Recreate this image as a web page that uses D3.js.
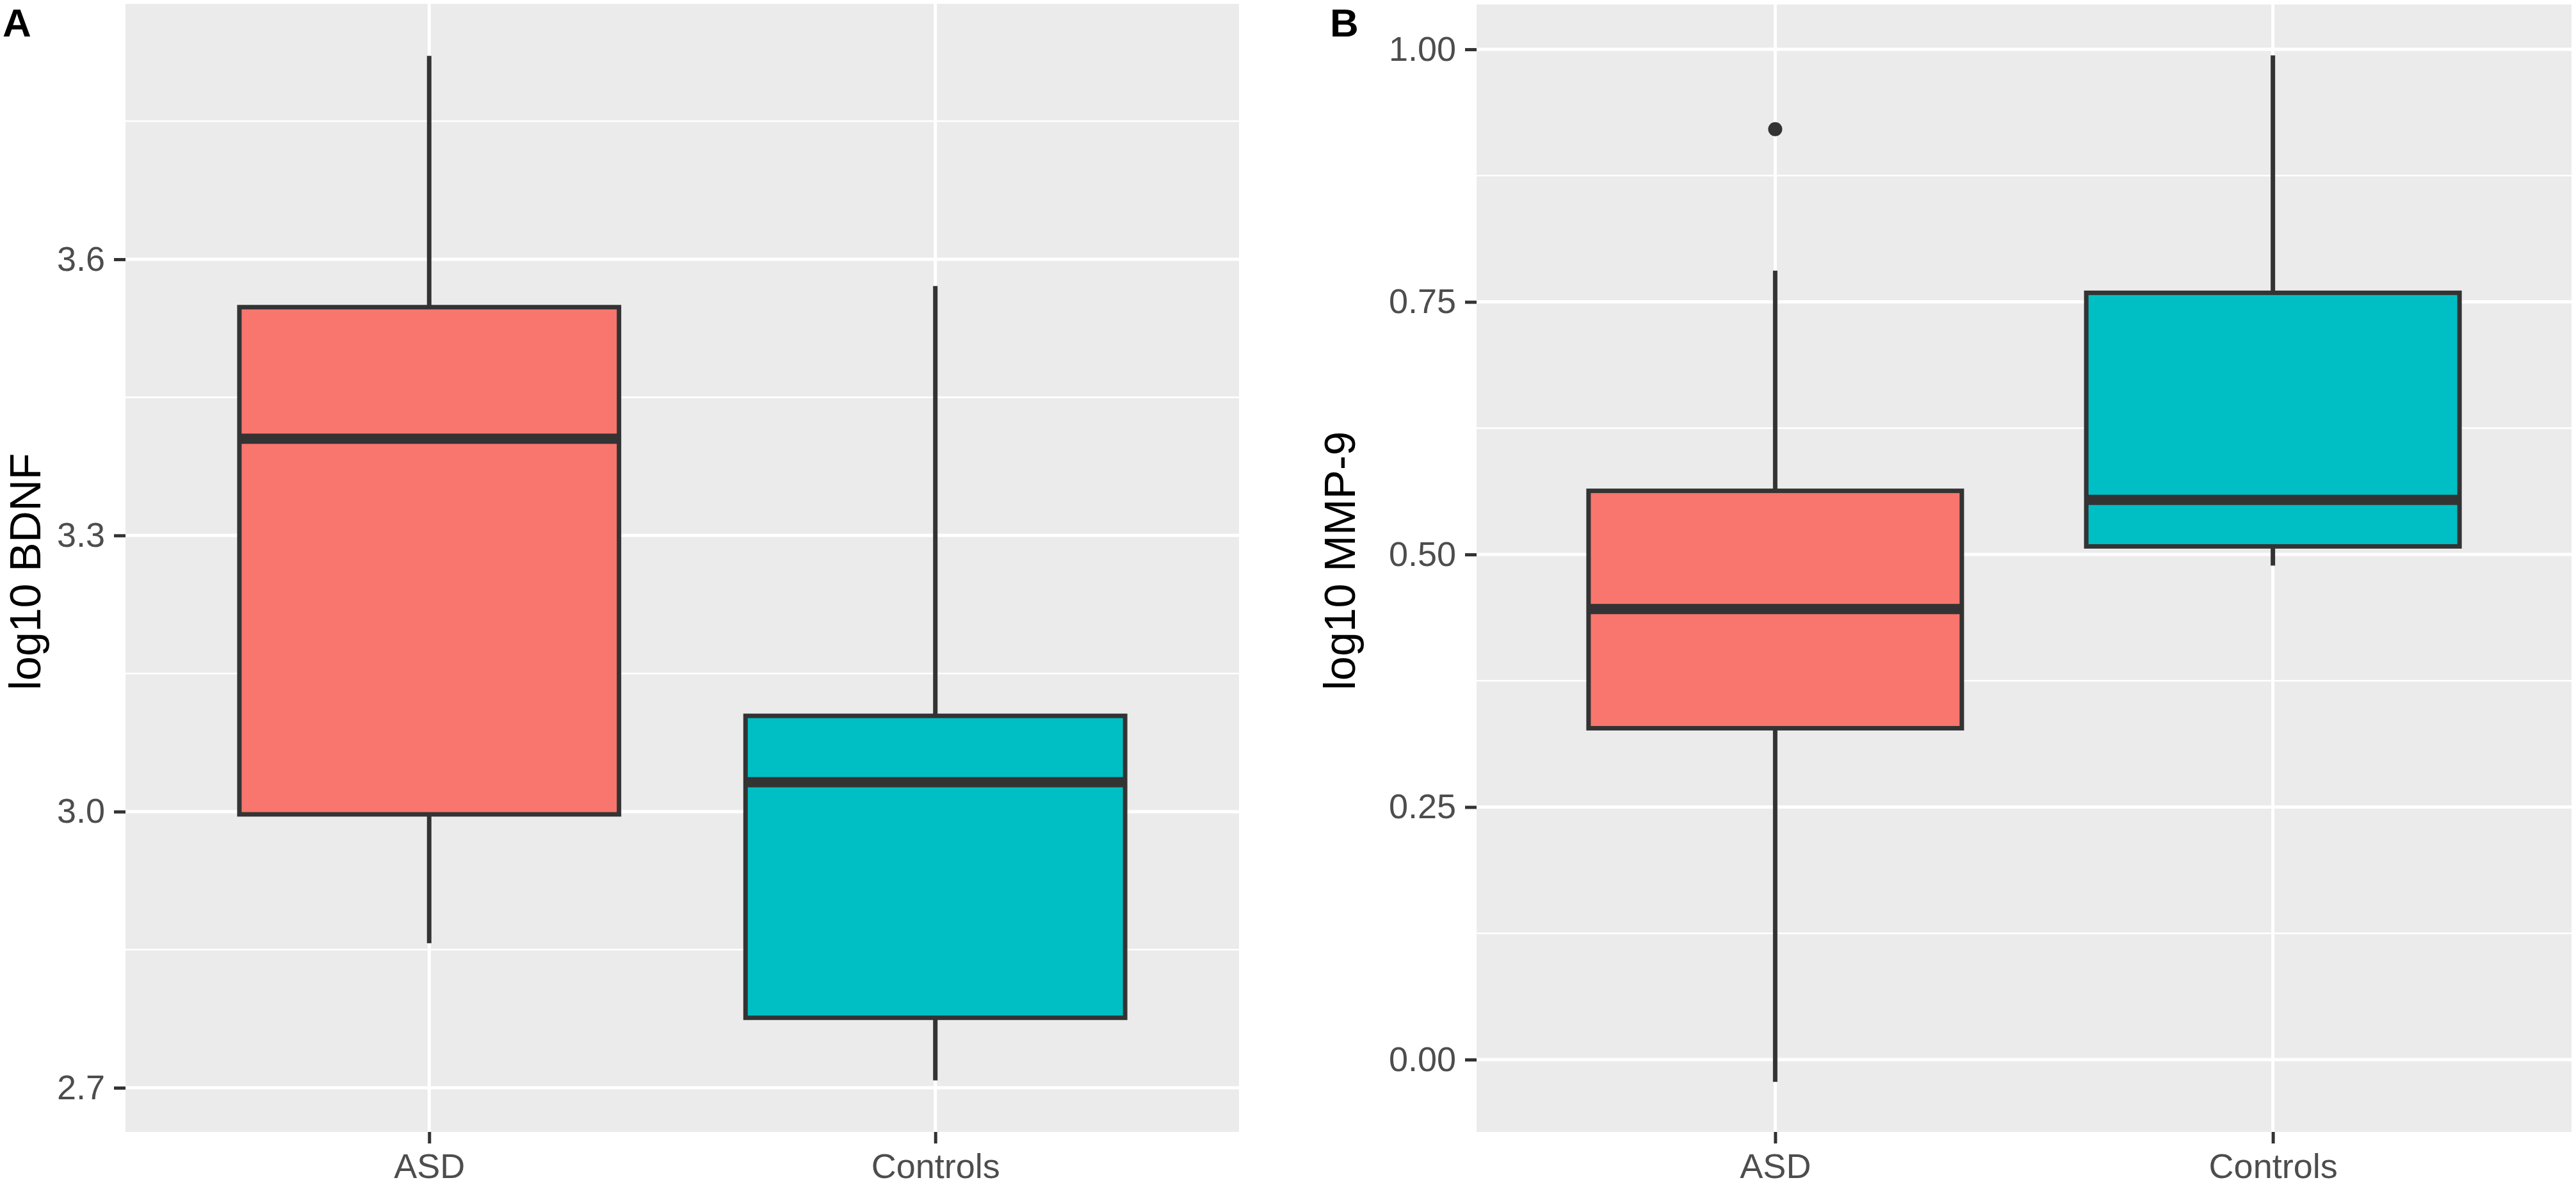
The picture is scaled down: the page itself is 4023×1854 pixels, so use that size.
<!DOCTYPE html>
<html lang="en">
<head>
    <meta charset="UTF-8">
    <title>log10 BDNF and MMP-9 boxplots</title>
    <script src="https://d3js.org/d3.v7.min.js"></script>
    <style>
        body { margin: 0; padding: 0; background: #fff; }
        svg { display: block; font-family: "Liberation Sans", Arial, sans-serif; }
    </style>
</head>
<body>
    <script>
        const categories = ["ASD", "Controls"];
        const fills = ["#F8766D", "#00BFC4"];

        // panel A: log10 BDNF
        const bdnfLow = [2.857, 2.708];
        const bdnfQ1 = [2.997, 2.776];
        const bdnfMedian = [3.405, 3.032];
        const bdnfQ3 = [3.548, 3.104];
        const bdnfHigh = [3.821, 3.571];
        const bdnfOutliers = [];
        const bdnfTicks = [2.7, 3.0, 3.3, 3.6];
        const bdnfMinor = [2.85, 3.15, 3.45, 3.75];

        // panel B: log10 MMP-9
        const mmpLow = [-0.022, 0.489];
        const mmpQ1 = [0.328, 0.508];
        const mmpMedian = [0.446, 0.554];
        const mmpQ3 = [0.563, 0.759];
        const mmpHigh = [0.781, 0.994];
        const mmpOutliers = [{ group: "ASD", value: 0.921 }];
        const mmpTicks = [0, 0.25, 0.5, 0.75, 1.0];
        const mmpMinor = [0.125, 0.375, 0.625, 0.875];

        const width = 4023, height = 1854;
        const svg = d3.select("body").append("svg")
            .attr("width", width)
            .attr("height", height);

        svg.append("rect").attr("width", width).attr("height", height).attr("fill", "#fff");

        function drawPanel(p) {
            const x = d3.scalePoint().domain(categories).range([p.left, p.right]).padding(0.6);
            const y = d3.scaleLinear().domain(p.domain).range([p.bottom, p.top]);
            const boxW = x.step() * 0.75;

            const g = svg.append("g");

            g.append("rect")
                .attr("x", p.left).attr("y", p.top)
                .attr("width", p.right - p.left).attr("height", p.bottom - p.top)
                .attr("fill", "#EBEBEB");

            // grid
            g.selectAll(".minor").data(p.minor).enter().append("line")
                .attr("x1", p.left).attr("x2", p.right)
                .attr("y1", d => y(d)).attr("y2", d => y(d))
                .attr("stroke", "#fff").attr("stroke-width", 2.6);
            g.selectAll(".major").data(p.ticks).enter().append("line")
                .attr("x1", p.left).attr("x2", p.right)
                .attr("y1", d => y(d)).attr("y2", d => y(d))
                .attr("stroke", "#fff").attr("stroke-width", 5);
            g.selectAll(".vgrid").data(categories).enter().append("line")
                .attr("x1", d => x(d)).attr("x2", d => x(d))
                .attr("y1", p.top).attr("y2", p.bottom)
                .attr("stroke", "#fff").attr("stroke-width", 5);

            // whiskers, boxes, medians
            categories.forEach((c, i) => {
                g.append("line")
                    .attr("x1", x(c)).attr("x2", x(c))
                    .attr("y1", y(p.high[i])).attr("y2", y(p.q3[i]))
                    .attr("stroke", "#333333").attr("stroke-width", 7);
                g.append("line")
                    .attr("x1", x(c)).attr("x2", x(c))
                    .attr("y1", y(p.q1[i])).attr("y2", y(p.low[i]))
                    .attr("stroke", "#333333").attr("stroke-width", 7);
                g.append("rect")
                    .attr("x", x(c) - boxW / 2).attr("width", boxW)
                    .attr("y", y(p.q3[i])).attr("height", y(p.q1[i]) - y(p.q3[i]))
                    .attr("fill", fills[i])
                    .attr("stroke", "#333333").attr("stroke-width", 7);
                g.append("line")
                    .attr("x1", x(c) - boxW / 2).attr("x2", x(c) + boxW / 2)
                    .attr("y1", y(p.median[i])).attr("y2", y(p.median[i]))
                    .attr("stroke", "#333333").attr("stroke-width", 16);
            });

            g.selectAll(".outlier").data(p.outliers).enter().append("circle")
                .attr("cx", d => x(d.group)).attr("cy", d => y(d.value))
                .attr("r", 11).attr("fill", "#333333");

            // axes
            const yAxis = g.append("g")
                .attr("transform", `translate(${p.left},0)`)
                .call(d3.axisLeft(y).tickValues(p.ticks).tickFormat(d3.format(p.fmt))
                    .tickSize(18).tickPadding(14));
            yAxis.select(".domain").remove();
            yAxis.selectAll(".tick line").attr("stroke", "#333333").attr("stroke-width", 5);
            yAxis.selectAll(".tick text")
                .attr("fill", "#4D4D4D").attr("font-size", 54)
                .attr("font-family", "Liberation Sans, Arial, sans-serif");

            const xAxis = g.append("g")
                .attr("transform", `translate(0,${p.bottom})`)
                .call(d3.axisBottom(x).tickSize(18).tickPadding(16));
            xAxis.select(".domain").remove();
            xAxis.selectAll(".tick line").attr("stroke", "#333333").attr("stroke-width", 5);
            xAxis.selectAll(".tick text")
                .attr("fill", "#4D4D4D").attr("font-size", 54)
                .attr("font-family", "Liberation Sans, Arial, sans-serif");

            g.append("text")
                .attr("transform", `translate(${p.titleX},1078) rotate(-90)`)
                .attr("font-size", 68).attr("fill", "#000")
                .text(p.title);

            g.append("text")
                .attr("x", p.labelX).attr("y", 57)
                .attr("font-size", 62).attr("font-weight", "bold").attr("fill", "#000")
                .text(p.label);
        }

        drawPanel({
            left: 196, right: 1935, top: 6, bottom: 1768,
            domain: [2.652, 3.8775],
            low: bdnfLow, q1: bdnfQ1, median: bdnfMedian, q3: bdnfQ3, high: bdnfHigh,
            outliers: bdnfOutliers, ticks: bdnfTicks, minor: bdnfMinor, fmt: ".1f",
            title: "log10 BDNF", titleX: 63, label: "A", labelX: 4
        });

        drawPanel({
            left: 2306, right: 4016, top: 7, bottom: 1768,
            domain: [-0.0716, 1.0444],
            low: mmpLow, q1: mmpQ1, median: mmpMedian, q3: mmpQ3, high: mmpHigh,
            outliers: mmpOutliers, ticks: mmpTicks, minor: mmpMinor, fmt: ".2f",
            title: "log10 MMP-9", titleX: 2116, label: "B", labelX: 2077
        });
    </script>
</body>
</html>
